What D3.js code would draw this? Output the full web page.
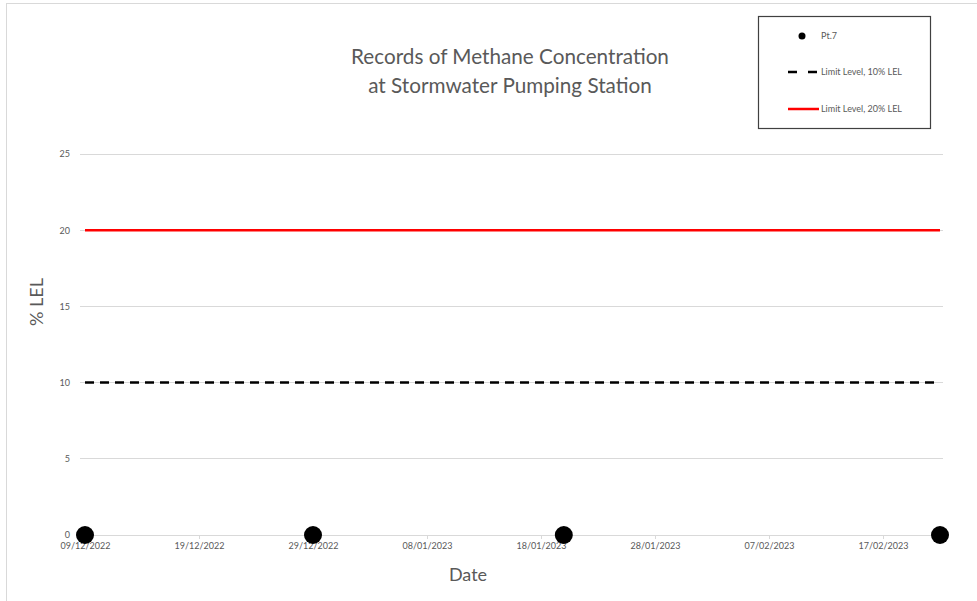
<!DOCTYPE html>
<html><head><meta charset="utf-8">
<script src="https://cdn.jsdelivr.net/npm/d3@7"></script>
<style>body{margin:0;background:#fff}svg{display:block}text{font-family:Lato,"Open Sans",sans-serif}</style>
</head><body><svg id="c" width="977" height="601"></svg>
<script>
const sampleDates = ["2022-12-09","2022-12-29","2023-01-20","2023-02-22"];
const pt7Values = [0,0,0,0];
const limit10 = [10,10];
const limit20 = [20,20];
const limitDates = ["2022-12-09","2023-02-22"];
const yTicks = [0,5,10,15,20,25];
const xTickDates = ["2022-12-09","2022-12-19","2022-12-29","2023-01-08","2023-01-18","2023-01-28","2023-02-07","2023-02-17"];
const titleLines = ["Records of Methane Concentration","at Stormwater Pumping Station"];
const legendLabels = ["Pt.7","Limit Level, 10% LEL","Limit Level, 20% LEL"];

const parse = d3.utcParse("%Y-%m-%d");
const fmt = d3.utcFormat("%d/%m/%Y");
const svg = d3.select("#c");
const grey = "#595959";

svg.append("rect").attr("x",6.5).attr("y",3.5).attr("width",985).attr("height",610)
  .attr("fill","#fff").attr("stroke","#d9d9d9");

const x = d3.scaleUtc().domain([parse("2022-12-09"), parse("2023-02-22")]).range([85, 940]);
const y = d3.scaleLinear().domain([0,25]).range([535,154]);

// gridlines
svg.append("g").selectAll("line").data(yTicks).join("line")
  .attr("x1",80).attr("x2",943).attr("y1",d=>y(d)).attr("y2",d=>y(d))
  .attr("stroke","#d9d9d9").attr("stroke-width",1).attr("shape-rendering","crispEdges");

// y axis labels
const yAxis = d3.axisLeft(y).tickValues(yTicks).tickSize(0).tickPadding(0).tickFormat(d3.format("d"));
const ya = svg.append("g").attr("transform","translate(70,0)").call(yAxis);
ya.select(".domain").remove();
ya.selectAll("text").attr("fill",grey).style("font-size","9px").style("font-family","Lato,sans-serif");

// x axis
const xAxis = d3.axisBottom(x).tickValues(xTickDates.map(parse)).tickFormat(fmt).tickSize(4).tickPadding(4);
const xa = svg.append("g").attr("transform","translate(0,535)").call(xAxis);
xa.select(".domain").remove();
xa.selectAll("line").attr("stroke","#d9d9d9");
xa.selectAll("text").attr("fill",grey).style("font-size","9px").style("font-family","Lato,sans-serif");

// limit lines
const line = d3.line().x(d=>x(d[0])).y(d=>y(d[1]));
svg.append("path").datum(limitDates.map((d,i)=>[parse(d),limit10[i]]))
  .attr("d",line).attr("fill","none").attr("stroke","#000").attr("stroke-width",2.5).attr("stroke-dasharray","9,6");
svg.append("path").datum(limitDates.map((d,i)=>[parse(d),limit20[i]]))
  .attr("d",line).attr("fill","none").attr("stroke","#ff0000").attr("stroke-width",2.5);

// points
svg.append("g").selectAll("circle").data(sampleDates.map((d,i)=>[parse(d),pt7Values[i]])).join("circle")
  .attr("cx",d=>x(d[0])).attr("cy",d=>y(d[1])).attr("r",9).attr("fill","#000");

// titles
svg.append("text").attr("x",510).attr("y",64).attr("text-anchor","middle").attr("fill",grey)
  .style("font-size","20.7px").selectAll("tspan").data(titleLines).join("tspan")
  .attr("x",510).attr("dy",(d,i)=>i?29:0).text(d=>d);

svg.append("text").attr("x",468).attr("y",581).attr("text-anchor","middle").attr("fill",grey)
  .style("font-size","18px").text("Date");
svg.append("text").attr("transform","translate(43,302) rotate(-90)").attr("text-anchor","middle").attr("fill",grey)
  .style("font-size","18px").text("% LEL");

// legend
const lg = svg.append("g");
lg.append("rect").attr("x",758.5).attr("y",16.5).attr("width",172).attr("height",112)
  .attr("fill","#fff").attr("stroke","#404040").attr("stroke-width",1.2);
const ly = [36,72,109];
lg.append("circle").attr("cx",802).attr("cy",ly[0]).attr("r",3.5).attr("fill","#000");
lg.append("line").attr("x1",788).attr("x2",819).attr("y1",ly[1]).attr("y2",ly[1])
  .attr("stroke","#000").attr("stroke-width",2.5).attr("stroke-dasharray","9,11");
lg.append("line").attr("x1",788).attr("x2",819).attr("y1",ly[2]).attr("y2",ly[2])
  .attr("stroke","#ff0000").attr("stroke-width",2.5);
lg.selectAll("text.l").data(legendLabels).join("text").attr("class","l")
  .attr("x",821).attr("y",(d,i)=>ly[i]+3).attr("fill",grey).style("font-size","9px").text(d=>d);
</script></body></html>
